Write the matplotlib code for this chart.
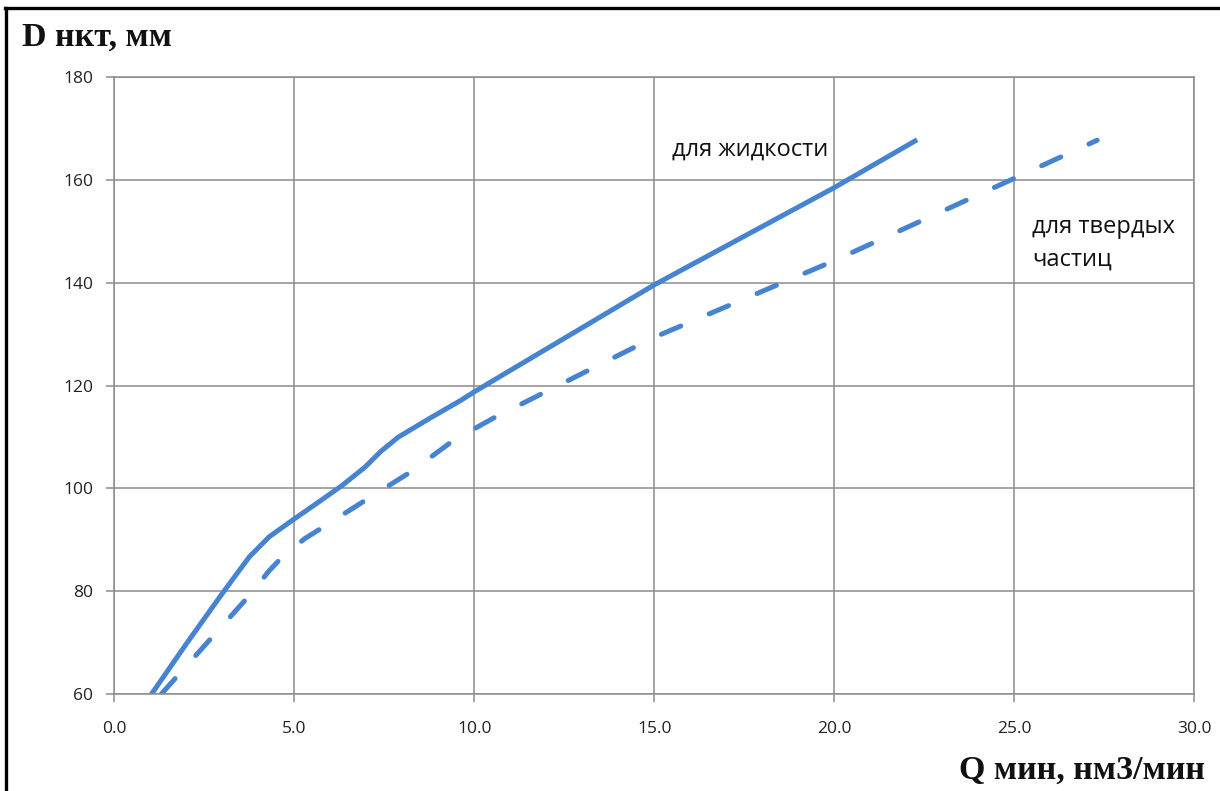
import matplotlib
matplotlib.use("Agg")
import matplotlib.pyplot as plt
from matplotlib.lines import Line2D

# values
q_liquid = [1.03, 2.0, 3.0, 3.4, 3.75, 4.3, 4.94, 5.6, 6.33, 6.97, 7.4, 7.89, 8.8, 9.64, 10.0,
            15.0, 20.0, 22.3]
d_liquid = [60.0, 69.8, 79.6, 83.4, 86.7, 90.6, 93.8, 97.0, 100.6, 104.2, 107.2, 110.0, 113.8,
            117.2, 118.8, 139.6, 158.5, 167.8]

q_solid = [1.3, 2.87, 3.8, 4.3, 4.72, 5.3, 5.87, 7.06, 8.25, 9.41, 10.56, 15.0, 20.0, 25.0, 27.3]
d_solid = [60.0, 72.3, 79.6, 84.0, 87.1, 90.3, 92.8, 98.1, 103.3, 109.3, 113.8, 129.4, 144.3,
           160.3, 167.7]

x_ticks = [0, 5, 10, 15, 20, 25, 30]
y_ticks = [60, 80, 100, 120, 140, 160, 180]

blue = "#4683d0"
grid_c = "#8c8c8c"

plt.rcParams['font.family'] = ['Open Sans', 'DejaVu Sans']

fig = plt.figure(figsize=(12.2, 7.91), dpi=100)
ax = fig.add_axes([0.0937, 0.1223, 0.979 - 0.0937, 0.9027 - 0.1223])

ax.plot(q_liquid, d_liquid, color=blue, lw=3.6, solid_capstyle="butt", solid_joinstyle="round")
ax.plot(q_solid, d_solid, color=blue, lw=3.6, dashes=(4.2, 6.2), dash_capstyle="round")

ax.set_xlim(0, 30)
ax.set_ylim(60, 180)
ax.set_xticks(x_ticks)
ax.set_yticks(y_ticks)
ax.set_xticklabels([f"{v:.1f}" for v in x_ticks])
ax.grid(True, color=grid_c, lw=1.1)
ax.set_axisbelow(True)
for s in ax.spines.values():
    s.set_color(grid_c)
    s.set_linewidth(1.1)
ax.tick_params(direction="out", length=6, width=1.1, color=grid_c,
               labelsize=12.5, labelcolor="#222222")
ax.tick_params(axis="x", pad=13)
ax.tick_params(axis="y", pad=9)

ax.text(15.5, 165.9, "для жидкости", fontsize=17, va="center", ha="left", color="#111111")
ax.text(25.5, 147.6, "для твердых\nчастиц", fontsize=17, va="center", ha="left",
        color="#111111", linespacing=1.5)

fig.text(0.018, 0.953, "D нкт, мм", fontsize=24.5, fontweight="bold",
         family="Liberation Serif", va="center", ha="left", color="#111111")
fig.text(0.988, 0.0265, "Q мин, нм3/мин", fontsize=24.5, fontweight="bold",
         family="Liberation Serif", va="center", ha="right", color="#111111")

# black frame on the left and top edges
fig.add_artist(Line2D([0.0053, 0.0053], [0, 0.9893], color="black", lw=2.4,
                      transform=fig.transFigure))
fig.add_artist(Line2D([0.0041, 1.0], [0.9893, 0.9893], color="black", lw=2.4,
                      transform=fig.transFigure))

fig.savefig("out.png", dpi=100)
